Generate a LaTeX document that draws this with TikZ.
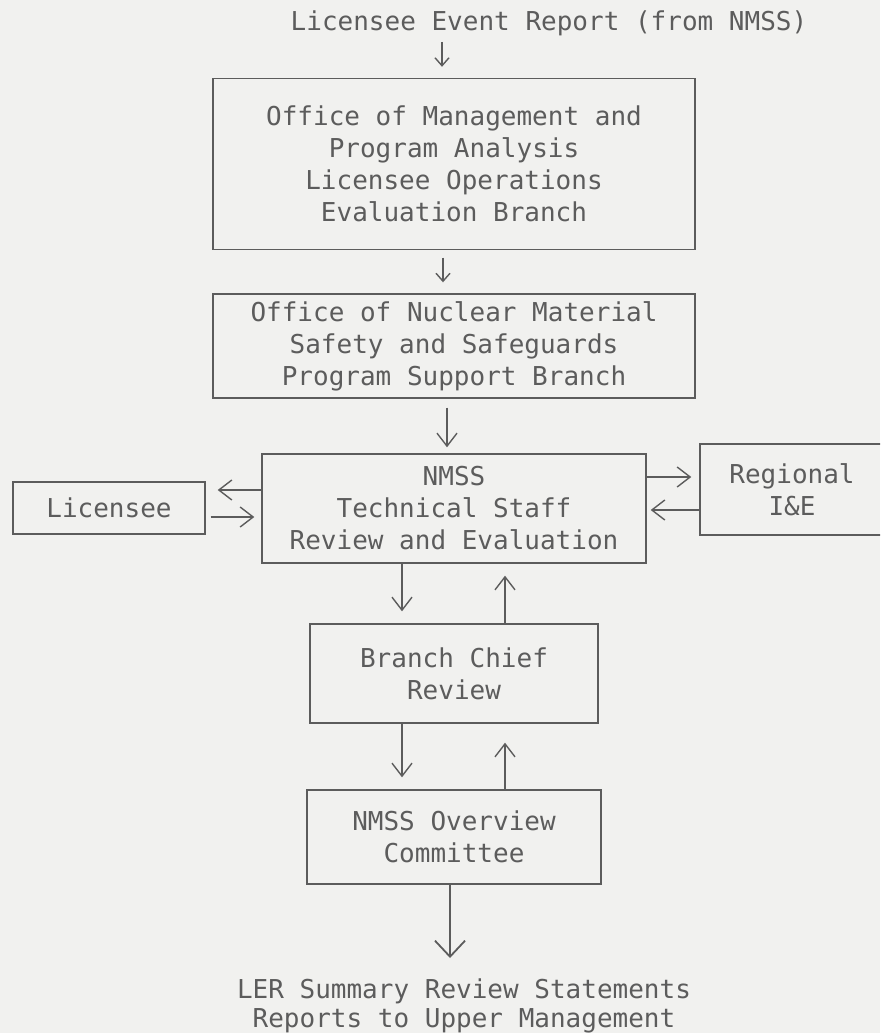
\documentclass[tikz,border=0pt]{standalone}
\usepackage{fontspec}
\setmonofont{DejaVu Sans Mono}
\usepackage{tikz}
\usepackage{xcolor}
\usetikzlibrary{arrows.meta,calc}
\definecolor{scan}{HTML}{F1F1EF}
\definecolor{ink}{HTML}{5C5C5C}

\begin{document}
\begin{tikzpicture}[x=0.5pt,y=-0.5pt,
        font=\ttfamily\fontsize{13}{16}\selectfont,
        box/.style={draw=ink, line width=0.7pt, inner sep=0pt, align=center, text=ink},
        txt/.style={inner sep=0pt, align=center, text=ink},
        arr/.style={draw=ink, line width=0.7pt, -{Straight Barb[length=4pt,width=7pt]}},
        midarr/.style={draw=ink, line width=0.7pt, -{Straight Barb[length=6.5pt,width=10pt]}},
        bigarr/.style={draw=ink, line width=0.9pt, -{Straight Barb[length=8pt,width=15pt]}}]
                \useasboundingbox (0,0) rectangle (880,1033);
                \clip (0,0) rectangle (880,1033);
                \fill[scan] (0,0) rectangle (880,1033);
                % boxes
                \node[txt] (title) at (549,23) {Licensee Event Report (from NMSS)};
                \node[box, minimum width=241pt, minimum height=85.5pt] (ompa) at (454,164)
                        {Office of Management and\\Program Analysis\\Licensee Operations\\Evaluation Branch};
                \node[box, minimum width=241pt, minimum height=52pt] (nmsspsb) at (454,346)
                        {Office of Nuclear Material\\Safety and Safeguards\\Program Support Branch};
                \node[box, minimum width=192pt, minimum height=54.5pt] (tech) at (454,508.5)
                        {NMSS\\Technical Staff\\Review and Evaluation};
                \node[box, minimum width=96pt, minimum height=26pt] (lic) at (109,508) {Licensee};
                \node[box, minimum width=92pt, minimum height=45.5pt] (reg) at (792,489.5) {Regional\\I\&E};
                \node[box, minimum width=144pt, minimum height=49.5pt] (bcr) at (454,673.5) {Branch Chief\\Review};
                \node[box, minimum width=147pt, minimum height=47pt] (ovc) at (454,837) {NMSS Overview\\Committee};
                \node[txt, anchor=north, font=\ttfamily\fontsize{13}{14.5}\selectfont] (ler) at (464,978)
                        {LER Summary Review Statements\\Reports to Upper Management};
                % main line
                \draw[arr, shorten <=3pt, shorten >=5.5pt] ($(title.south -| ompa.north)+(-6pt,0)$) -- ($(ompa.north)+(-6pt,0)$);
                \draw[arr, shorten <=3.75pt, shorten >=5.5pt] ($(ompa.south)+(-5.5pt,0)$) -- ($(nmsspsb.north)+(-5.5pt,0)$);
                \draw[midarr, shorten <=4.5pt, shorten >=3pt] ($(nmsspsb.south)+(-3.5pt,0)$) -- ($(tech.north)+(-3.5pt,0)$);
                % side exchanges
                \draw[midarr, shorten >=6pt] ([yshift=9.25pt]tech.west) -- ([yshift=9pt]lic.east);
                \draw[midarr, shorten <=2.5pt, shorten >=3.5pt] ([yshift=-4.5pt]lic.east) -- ([yshift=-4.25pt]tech.west);
                \draw[midarr, shorten >=4pt] ([yshift=15.75pt]tech.east) -- ([yshift=6.25pt]reg.west);
                \draw[midarr, shorten >=2pt] ([yshift=-10.25pt]reg.west) -- ([yshift=-0.75pt]tech.east);
                % review loop
                \draw[midarr, shorten >=6pt] ([xshift=-26pt]tech.south) -- ([xshift=-26pt]bcr.north);
                \draw[midarr, shorten >=6pt] ([xshift=25.5pt]bcr.north) -- ([xshift=25.5pt]tech.south);
                \draw[midarr, shorten >=6pt] ([xshift=-26pt]bcr.south) -- ([xshift=-26pt]ovc.north);
                \draw[midarr, shorten >=9.5pt] ([xshift=25.5pt]ovc.north) -- ([xshift=25.5pt]bcr.south);
                \draw[bigarr, shorten >=10pt] ($(ovc.south)+(-2pt,0)$) -- ($(ovc.south |- ler.north)+(-2pt,0)$);
\end{tikzpicture}
\end{document}
